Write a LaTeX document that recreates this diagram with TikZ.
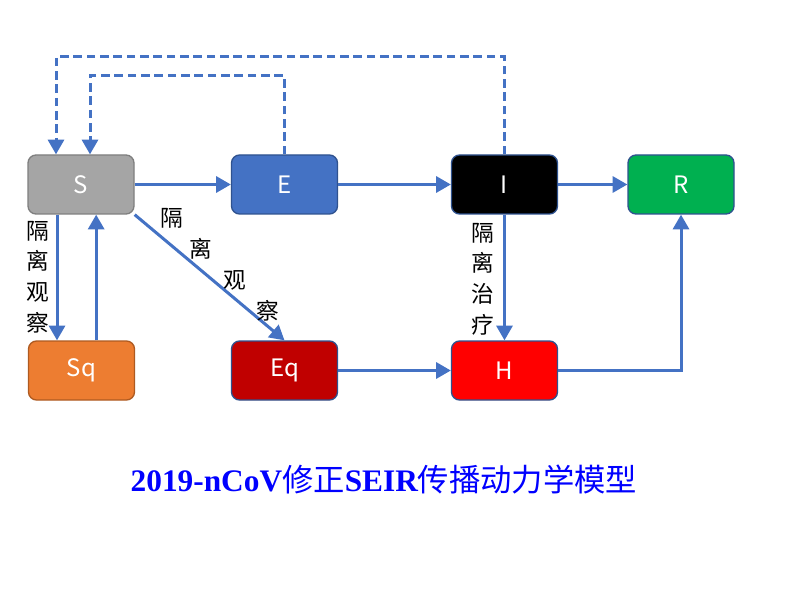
\documentclass[tikz,border=0pt]{standalone}
\usepackage{fontspec}
\setmainfont{Liberation Serif}
\newfontfamily\cjk{Noto Sans CJK SC}
\usetikzlibrary{arrows.meta,calc}
\definecolor{arrowblue}{HTML}{4472C4}
\definecolor{edgeblue}{HTML}{2F528F}
\definecolor{sgray}{HTML}{A5A5A5}
\definecolor{sgrayd}{HTML}{7F7F7F}
\definecolor{eblue}{HTML}{4472C4}
\definecolor{rgreen}{HTML}{00B050}
\definecolor{sqorange}{HTML}{ED7D31}
\definecolor{sqorangd}{HTML}{AE5A21}
\definecolor{eqred}{HTML}{C00000}
\definecolor{hred}{HTML}{FF0000}
\definecolor{titleblue}{HTML}{0000FF}
\begin{document}
\begin{tikzpicture}[x=0.75pt,y=-0.75pt,
  box/.style={draw=edgeblue, rounded corners=6pt, minimum width=79.5pt, minimum height=44.25pt,
    line width=1pt, text=white, font=\cjk\fontsize{18}{20}\selectfont, inner sep=0pt},
  flow/.style={draw=arrowblue, line width=2.25pt, -{Triangle[length=11pt,width=12pt]}},
  fb/.style={flow, dash pattern=on 6.5pt off 3.5pt},
  lab/.style={font=\cjk\fontsize{17}{23}\selectfont, align=center, inner sep=0pt}]
\path[use as bounding box, fill=white] (0,0) rectangle (802,598);

\node[box, fill=sgray, draw=sgrayd] (S) at (81,184.5) {S};
\node[box, fill=eblue] (E) at (284.5,184.5) {E};
\node[box, fill=black] (I) at (504.5,184.5) {I};
\node[box, fill=rgreen] (R) at (681,184.5) {R};
\node[box, fill=sqorange, draw=sqorangd] (Sq) at (81.5,370.5) {Sq};
\node[box, fill=eqred] (Eq) at (284.5,370.5) {Eq};
\node[box, fill=hred] (H) at (504.5,370.5) {H};

\coordinate (topA) at (0,57);
\coordinate (topB) at (0,76);

% main flows
\draw[flow] (S.east) -- (E.west);
\draw[flow] (E.east) -- (I.west);
\draw[flow] (I.east) -- (R.west);
\draw[flow] (Eq.east) -- (H.west);
\draw[flow] (I.south) -- (H.north);
\draw[flow] (H.east) -| (R.south);
\draw[flow] ([xshift=-18pt]S.south) -- ([xshift=-18pt]S.south |- Sq.north);
\draw[flow] ([xshift=11pt]Sq.north) -- ([xshift=11pt]Sq.north |- S.south);
\draw[flow] (S.south east) -- (Eq.north);

% feedback dashed
\draw[fb] (E.north) -- (E.north |- topB) -| ([xshift=6.75pt]S.north);
\draw[fb] (I.north) -- (I.north |- topA) -| ([xshift=-18.75pt]S.north);

% labels
\node[lab] (l1) at (38,277) {隔\\离\\观\\察};
\node[lab] (d1) at (172,218) {隔};
\node[lab] (d2) at (201,249) {离};
\node[lab] (d3) at (235,280) {观};
\node[lab] (d4) at (268,311) {察};
\node[lab] (l3) at (483,279) {隔\\离\\治\\疗};

\node[text=titleblue, font=\fontsize{23.5}{28}\selectfont, inner sep=0pt] (title) at (384,480)
  {{\bfseries 2019-nCoV}{\cjk 修正}{\bfseries SEIR}{\cjk 传播动力学模型}};
\end{tikzpicture}
\end{document}
